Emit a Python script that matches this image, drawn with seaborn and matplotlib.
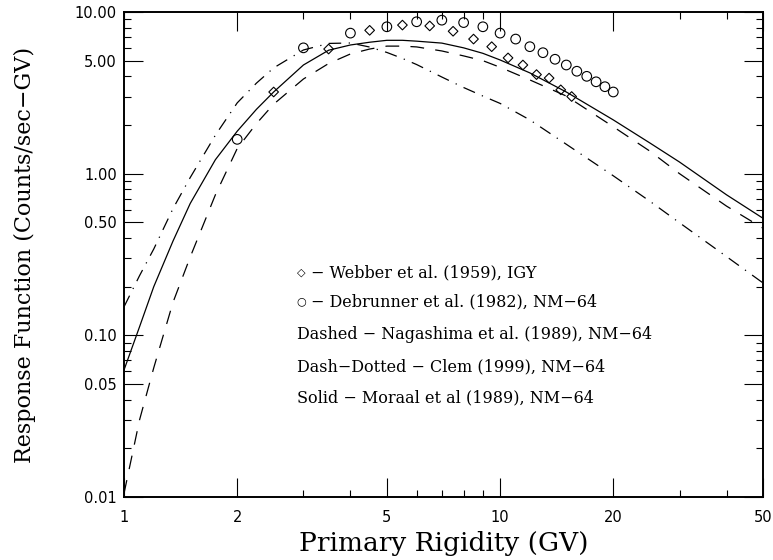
import numpy as np
import pandas as pd
import matplotlib
matplotlib.use("Agg")
import matplotlib.pyplot as plt
import matplotlib.ticker as mticker
import seaborn as sns

# rigidity grid (GV) for the model curves
rigidity = [1.0, 1.1, 1.2, 1.35, 1.5, 1.75, 2.0, 2.25, 2.5, 3.0, 3.5, 4.0, 4.5,
            5.0, 5.5, 6.0, 7.0, 8.0, 9.0, 10, 12, 15, 20, 25, 30, 40, 50]

# Moraal et al (1989) - solid
moraal = [0.061, 0.113, 0.20, 0.383, 0.654, 1.22, 1.83, 2.5, 3.2, 4.7, 5.8, 6.25, 6.5,
          6.68, 6.68, 6.6, 6.42, 6.0, 5.55, 5.05, 4.2, 3.2, 2.15, 1.55, 1.18, 0.74, 0.53]
# Nagashima et al. (1989) - dashed
nagashima = [0.0105, 0.030, 0.063, 0.160, 0.305, 0.74, 1.43, 2.04, 2.69, 3.85, 4.8, 5.5, 5.9,
             6.15, 6.15, 6.08, 5.74, 5.35, 5.0, 4.55, 3.8, 3.02, 1.95, 1.38, 1.0, 0.63, 0.46]
# Clem (1999) - dash-dotted
clem = [0.15, 0.234, 0.342, 0.608, 0.946, 1.73, 2.74, 3.63, 4.51, 5.82, 6.39, 6.43, 6.07,
        5.62, 5.16, 4.73, 3.96, 3.41, 3.02, 2.72, 2.15, 1.52, 0.97, 0.676, 0.497, 0.307, 0.211]

# Webber et al. (1959) - diamonds
webber_x = [2.5, 3.5, 4.5, 5.5, 6.5, 7.5, 8.5, 9.5, 10.5, 11.5, 12.5, 13.5, 14.5, 15.5]
webber_y = [3.2, 5.9, 7.7, 8.3, 8.2, 7.6, 6.8, 6.1, 5.2, 4.7, 4.1, 3.9, 3.3, 3.0]

# Debrunner et al. (1982) - circles
debrunner_x = [2, 3, 4, 5, 6, 7, 8, 9, 10, 11, 12, 13, 14, 15, 16, 17, 18, 19, 20]
debrunner_y = [1.63, 6.0, 7.4, 8.1, 8.7, 8.9, 8.6, 8.1, 7.4, 6.8, 6.1, 5.6, 5.1, 4.7,
               4.3, 4.0, 3.7, 3.45, 3.2]

x_major = [1, 2, 5, 10, 20, 50]
x_minor = [3, 4, 6, 7, 8, 9, 30, 40]
y_major = [0.01, 0.05, 0.1, 0.5, 1, 5, 10]
y_minor = [0.02, 0.03, 0.04, 0.06, 0.07, 0.08, 0.09,
           0.2, 0.3, 0.4, 0.6, 0.7, 0.8, 0.9,
           2, 3, 4, 6, 7, 8, 9]

symbols = ["\u25c7", "\u25cb"]
notes = ["\u2212 Webber et al. (1959), IGY",
         "\u2212 Debrunner et al. (1982), NM\u221264",
         "Dashed \u2212 Nagashima et al. (1989), NM\u221264",
         "Dash\u2212Dotted \u2212 Clem (1999), NM\u221264",
         "Solid \u2212 Moraal et al (1989), NM\u221264"]

curves = pd.DataFrame({"R": rigidity, "moraal": moraal,
                       "nagashima": nagashima, "clem": clem})

sns.set_style("ticks")
plt.rcParams["font.family"] = ["DejaVu Sans"]
plt.rcParams["text.color"] = "black"
plt.rcParams["axes.labelcolor"] = "black"

fig = plt.figure(figsize=(7.73, 5.60), dpi=100)
ax = fig.add_axes([0.1604, 0.1125, 0.8266, 0.8661])

lw = 0.9
sns.lineplot(data=curves, x="R", y="moraal", color="black", linewidth=lw,
             sort=False, estimator=None, ax=ax)
sns.lineplot(data=curves, x="R", y="nagashima", color="black", linewidth=lw,
             linestyle=(0, (11, 9)), sort=False, estimator=None, ax=ax)
sns.lineplot(data=curves, x="R", y="clem", color="black", linewidth=lw,
             linestyle=(0, (10, 6, 1, 6)), sort=False, estimator=None, ax=ax)

sns.scatterplot(x=webber_x, y=webber_y, marker="D", s=24, facecolors="none",
                edgecolor="black", linewidth=0.8, ax=ax, zorder=3)
sns.scatterplot(x=debrunner_x, y=debrunner_y, marker="o", s=48, facecolors="none",
                edgecolor="black", linewidth=0.8, ax=ax, zorder=3)

ax.set_xscale("log")
ax.set_yscale("log")
ax.set_xlim(1, 50)
ax.set_ylim(0.01, 10)

ax.xaxis.set_major_locator(mticker.FixedLocator(x_major))
ax.xaxis.set_minor_locator(mticker.FixedLocator(x_minor))
ax.xaxis.set_major_formatter(mticker.FixedFormatter([str(v) for v in x_major]))
ax.xaxis.set_minor_formatter(mticker.NullFormatter())
ax.yaxis.set_major_locator(mticker.FixedLocator(y_major))
ax.yaxis.set_minor_locator(mticker.FixedLocator(y_minor))
ax.yaxis.set_major_formatter(mticker.FuncFormatter(lambda v, p: f"{v:.2f}"))
ax.yaxis.set_minor_formatter(mticker.NullFormatter())

ax.tick_params(which="both", direction="in", top=True, right=True,
               colors="black", labelcolor="black", labelsize=10.5)
ax.tick_params(which="major", length=13.5, width=0.8)
ax.tick_params(which="minor", length=5, width=0.8)
ax.tick_params(axis="x", which="major", pad=9)
ax.tick_params(axis="y", which="major", pad=5)
for sp in ax.spines.values():
    sp.set_linewidth(1.4)
    sp.set_color("black")

ax.set_xlabel("Primary Rigidity (GV)", family="DejaVu Serif", fontsize=19, labelpad=5)
ax.set_ylabel("Response Function (Counts/sec\u2212GV)", family="DejaVu Serif",
              fontsize=16, labelpad=28)

rows = [0.4625, 0.4027, 0.336, 0.2687, 0.2035]
for i, (txt, yy) in enumerate(zip(notes, rows)):
    if i < len(symbols):
        ax.text(0.278, yy, symbols[i], transform=ax.transAxes, va="center",
                ha="center", fontsize=8, color="black", family="DejaVu Sans")
        ax.text(0.2926, yy, txt, transform=ax.transAxes, va="center", ha="left",
                fontsize=11.5, color="black", family="DejaVu Serif")
    else:
        ax.text(0.271, yy, txt, transform=ax.transAxes, va="center", ha="left",
                fontsize=11.5, color="black", family="DejaVu Serif")

fig.savefig("out.png", dpi=100)
